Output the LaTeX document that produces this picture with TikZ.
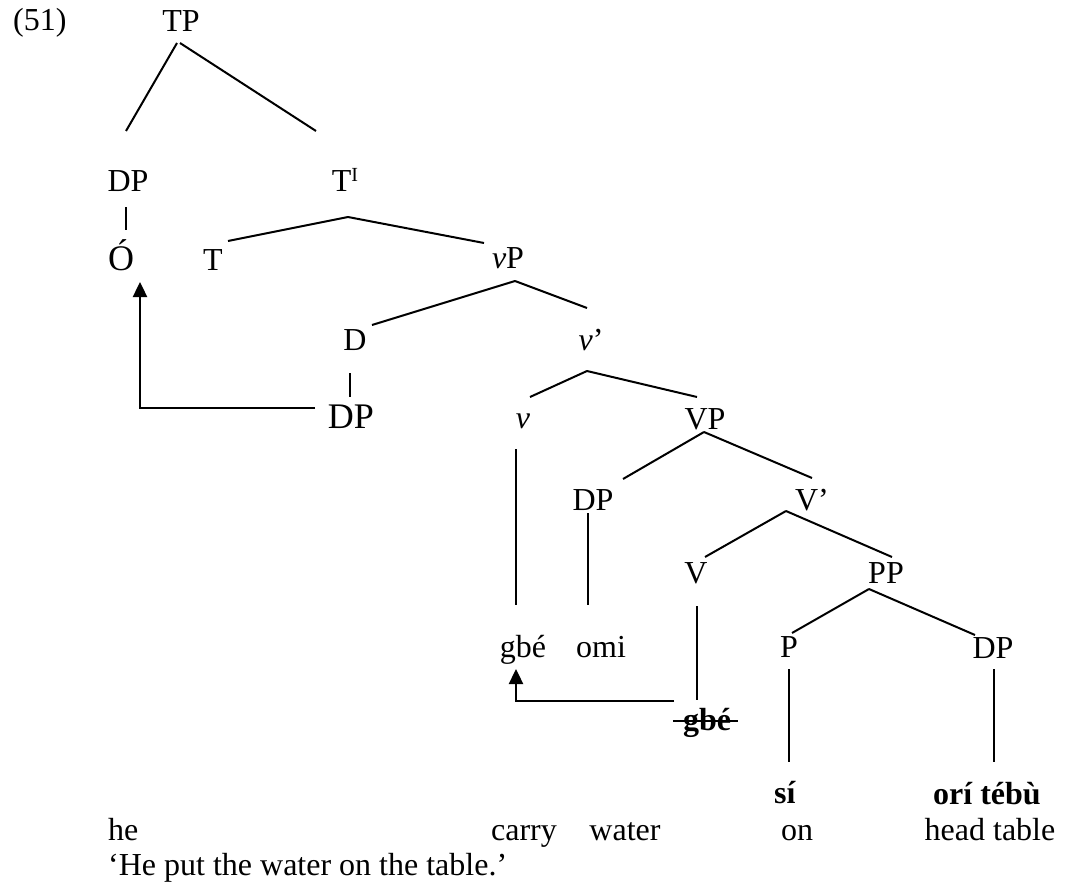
\documentclass[tikz,border=0pt]{standalone}
\usepackage{fontspec}
\setmainfont{Liberation Serif}
\usetikzlibrary{arrows.meta}

\tikzset{
  lbl/.style={inner sep=0pt, anchor=base, font=\fontsize{32}{38}\selectfont},
  biglbl/.style={inner sep=0pt, anchor=base, font=\fontsize{36}{42}\selectfont},
  txt/.style={inner sep=0pt, anchor=base west, font=\fontsize{32}{38}\selectfont},
  branch/.style={line width=2pt},
  move/.style={line width=2.4pt, -{Triangle[length=15pt,width=14pt]}},
  strike/.style={line width=2pt}
}

\begin{document}
\begin{tikzpicture}[x=1pt, y=-1pt]
\useasboundingbox (0,0) rectangle (1066,883);

% example number
\node[txt] (ex) at (13,31) {(51)};

% tree labels
\node[lbl] (TP)   at (181,32)  {TP};
\node[lbl] (DPa)  at (128,191) {DP};
\node[lbl] (Tbar) at (345,191) {T\raisebox{10pt}{\fontsize{20}{20}\selectfont I}};
\node[biglbl] (O) at (121,270) {Ó};
\node[lbl] (T)    at (213,270) {T};
\node[lbl] (vP)   at (508,268) {\textit{v}P};
\node[lbl] (D)    at (355,350) {D};
\node[lbl] (vbar) at (591,350) {\textit{v}’};
\node[biglbl] (DPb) at (351,428) {DP};
\node[lbl] (v)    at (523,428) {\textit{v}};
\node[lbl] (VP)   at (705,429) {VP};
\node[lbl] (DPc)  at (593,510) {DP};
\node[lbl] (Vbar) at (812,510) {V’};
\node[lbl] (V)    at (696,583) {V};
\node[lbl] (PP)   at (886,583) {PP};
\node[lbl] (gbe)  at (523,657) {gbé};
\node[lbl] (omi)  at (601,657) {omi};
\node[lbl] (P)    at (789,657) {P};
\node[lbl] (DPd)  at (993,658) {DP};
\node[lbl] (gbeS) at (707,730) {\textbf{gbé}};
\node[lbl] (si)   at (785,803) {\textbf{sí}};
\node[lbl] (ori)  at (987,804) {\textbf{orí tébù}};

% gloss line and translation
\node[txt] (he)    at (108,840) {he};
\node[lbl] (carry) at (524,840) {carry};
\node[lbl] (water) at (625,840) {water};
\node[lbl] (on)    at (797,840) {on};
\node[lbl] (head)  at (990,840) {head table};
\node[txt] (trans) at (108,875) {‘He put the water on the table.’};

% branches
\draw[branch] ([shift={(-4,11)}]TP.base) -- ([shift={(-2,-60)}]DPa.base);
\draw[branch] ([shift={(-1,11)}]TP.base) -- ([shift={(-29,-60)}]Tbar.base);
\draw[branch] ([shift={(-2,16)}]DPa.base) -- ([shift={(-2,-40)}]O.base -| DPa.base);
\draw[branch] ([shift={(3,26)}]Tbar.base) -- ([shift={(15,-29)}]T.base);
\draw[branch] ([shift={(3,26)}]Tbar.base) -- ([shift={(-24,-25)}]vP.base);
\draw[branch] ([shift={(7,13)}]vP.base) -- ([shift={(17,-25)}]D.base);
\draw[branch] ([shift={(7,13)}]vP.base) -- ([shift={(-4,-42)}]vbar.base);
\draw[branch] ([shift={(-5,23)}]D.base) -- ([shift={(-1,-31)}]DPb.base);
\draw[branch] ([shift={(-4,21)}]vbar.base) -- ([shift={(7,-31)}]v.base);
\draw[branch] ([shift={(-4,21)}]vbar.base) -- ([shift={(-8,-32)}]VP.base);
\draw[branch] ([shift={(-7,21)}]v.base) -- ([shift={(-7,-52)}]gbe.base);
\draw[branch] ([shift={(-1,3)}]VP.base) -- ([shift={(30,-31)}]DPc.base);
\draw[branch] ([shift={(-1,3)}]VP.base) -- ([shift={(0,-32)}]Vbar.base);
\draw[branch] ([shift={(-5,3)}]DPc.base) -- ([shift={(-13,-52)}]omi.base);
\draw[branch] ([shift={(-26,1)}]Vbar.base) -- ([shift={(9,-26)}]V.base);
\draw[branch] ([shift={(-26,1)}]Vbar.base) -- ([shift={(6,-26)}]PP.base);
\draw[branch] ([shift={(1,23)}]V.base) -- ([shift={(-10,-30)}]gbeS.base);
\draw[branch] ([shift={(-17,6)}]PP.base) -- ([shift={(3,-24)}]P.base);
\draw[branch] ([shift={(-17,6)}]PP.base) -- ([shift={(-18,-23)}]DPd.base);
\draw[branch] ([shift={(0,12)}]P.base) -- ([shift={(4,-41)}]si.base);
\draw[branch] ([shift={(1,11)}]DPd.base) -- ([shift={(7,-42)}]ori.base);

% strike-through of the lower copy
\draw[strike] ([shift={(-10,-9)}]gbeS.base west) -- ([shift={(7,-9)}]gbeS.base east);

% movement arrows
\draw[move] ([shift={(-36,-20)}]DPb.base) -| ([shift={(19,12)}]O.base);
\draw[move] ([shift={(-33,-29)}]gbeS.base) -| ([shift={(-7,12)}]gbe.base);
\end{tikzpicture}
\end{document}
